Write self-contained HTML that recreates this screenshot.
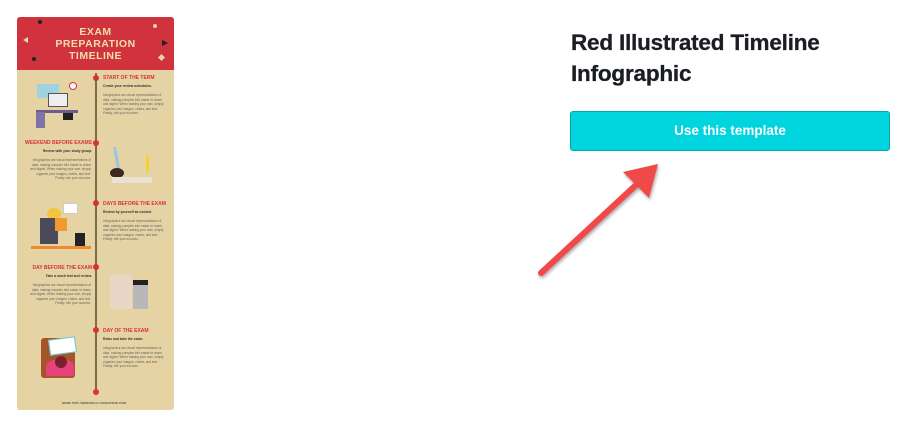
<!DOCTYPE html>
<html><head><meta charset="utf-8"><style>
*{margin:0;padding:0;box-sizing:border-box}
body{width:899px;height:429px;background:#fff;position:relative;overflow:hidden;font-family:"Liberation Sans",sans-serif}
.a{position:absolute}
.h{position:absolute;font-size:5px;font-weight:bold;color:#d6323c;white-space:nowrap}
.s{position:absolute;font-size:3.4px;font-weight:bold;color:#333;white-space:nowrap}
.p{position:absolute;font-size:3.2px;color:#666;line-height:4.6px;width:62px}
.r{text-align:right}
.dot{position:absolute;left:93px;width:6px;height:6px;border-radius:50%;background:#d6323c}
</style></head><body>
<div class="a" style="left:17px;top:17px;width:157px;height:393px;background:#e5d3a4;border-radius:3px;overflow:hidden">
 <div class="a" style="left:0;top:0;width:157px;height:53px;background:#d0333d"></div>
 <div class="a" style="left:0;top:9px;width:157px;text-align:center;color:#f2dfae;font-weight:bold;font-size:10.5px;line-height:12px;letter-spacing:.5px">EXAM<br>PREPARATION<br>TIMELINE</div>
 <div class="a" style="top:3px;width:4px;height:4px;border-radius:50%;background:#222;left:21px"></div>
 <div class="a" style="left:15px;top:40px;width:4px;height:4px;border-radius:50%;background:#222"></div>
 <div class="a" style="left:136px;top:7px;width:4px;height:4px;border-radius:50%;background:#e5d3a4"></div>
 <div class="a" style="left:142px;top:38px;width:5px;height:5px;background:#e5d3a4;transform:rotate(45deg)"></div>
 <div class="a" style="left:6px;top:20px;border-right:5px solid #e5d3a4;border-top:3px solid transparent;border-bottom:3px solid transparent"></div>
 <div class="a" style="left:145px;top:23px;border-left:6px solid #222;border-top:3px solid transparent;border-bottom:3px solid transparent"></div>
 <div class="a" style="left:78px;top:56px;width:2px;height:320px;background:#7a6c4c"></div>
</div>
<div class="dot" style="top:75px"></div><div class="dot" style="top:140px"></div><div class="dot" style="top:200px"></div>
<div class="dot" style="top:264px"></div><div class="dot" style="top:327px"></div><div class="dot" style="top:389px"></div>

<div class="h" style="left:103px;top:75px">START OF THE TERM</div>
<div class="s" style="left:103px;top:84px">Create your review schedules.</div>
<div class="p" style="left:103px;top:93px">Infographics are visual representations of data, making complex info easier to share and digest. When making your own, simply organize your images, charts, and text. Finally, cite your sources.</div>

<div class="h r" style="left:20px;top:140px;width:72px">WEEKEND BEFORE EXAMS</div>
<div class="s r" style="left:20px;top:149px;width:72px">Review with your study group.</div>
<div class="p r" style="left:29px;top:158px">Infographics are visual representations of data, making complex info easier to share and digest. When making your own, simply organize your images, charts, and text. Finally, cite your sources.</div>

<div class="h" style="left:103px;top:201px">DAYS BEFORE THE EXAM</div>
<div class="s" style="left:103px;top:210px">Review by yourself as needed.</div>
<div class="p" style="left:103px;top:219px">Infographics are visual representations of data, making complex info easier to share and digest. When making your own, simply organize your images, charts, and text. Finally, cite your sources.</div>

<div class="h r" style="left:20px;top:265px;width:72px">DAY BEFORE THE EXAM</div>
<div class="s r" style="left:20px;top:274px;width:72px">Take a mock test and review.</div>
<div class="p r" style="left:29px;top:283px">Infographics are visual representations of data, making complex info easier to share and digest. When making your own, simply organize your images, charts, and text. Finally, cite your sources.</div>

<div class="h" style="left:103px;top:328px">DAY OF THE EXAM</div>
<div class="s" style="left:103px;top:337px">Relax and take the exam.</div>
<div class="p" style="left:103px;top:346px">Infographics are visual representations of data, making complex info easier to share and digest. When making your own, simply organize your images, charts, and text. Finally, cite your sources.</div>
<div class="s" style="left:62px;top:401px;font-size:3px;color:#555">MORE TIPS: WWW.REALLYGREATSITE.COM</div>

<div class="a" style="left:37px;top:84px;width:22px;height:14px;background:#9fd3e0"></div>
<div class="a" style="left:48px;top:93px;width:20px;height:14px;background:#eee;border:1px solid #555"></div>
<div class="a" style="left:69px;top:82px;width:8px;height:8px;border-radius:50%;border:1.5px solid #d6323c;background:#fff"></div>
<div class="a" style="left:36px;top:110px;width:42px;height:3px;background:#6b5e8e"></div>
<div class="a" style="left:36px;top:112px;width:9px;height:16px;background:#7f72a6"></div>
<div class="a" style="left:63px;top:113px;width:10px;height:7px;background:#222"></div>
<div class="a" style="left:115px;top:147px;width:3px;height:22px;background:#9cc3e0;transform:rotate(-10deg)"></div>
<div class="a" style="left:110px;top:168px;width:14px;height:10px;border-radius:50%;background:#3a2a20"></div>
<div class="a" style="left:112px;top:177px;width:40px;height:6px;background:#e9e2d2"></div>
<div class="a" style="left:146px;top:156px;width:3px;height:16px;background:#f4d030"></div>
<div class="a" style="left:47px;top:208px;width:14px;height:12px;border-radius:50%;background:#f4c440"></div>
<div class="a" style="left:63px;top:203px;width:15px;height:11px;background:#fff;border:1px solid #ccc"></div>
<div class="a" style="left:40px;top:218px;width:18px;height:26px;background:#4a4a5a"></div>
<div class="a" style="left:55px;top:218px;width:12px;height:13px;background:#f09a30"></div>
<div class="a" style="left:75px;top:233px;width:10px;height:14px;background:#222"></div>
<div class="a" style="left:31px;top:246px;width:60px;height:3px;background:#f08a30"></div>
<div class="a" style="left:110px;top:275px;width:22px;height:34px;background:#e8d7c6"></div>
<div class="a" style="left:133px;top:283px;width:15px;height:26px;background:#b8b8b8"></div>
<div class="a" style="left:133px;top:280px;width:15px;height:5px;background:#222"></div>
<div class="a" style="left:41px;top:338px;width:34px;height:40px;background:#a4562a;border-radius:3px"></div>
<div class="a" style="left:49px;top:338px;width:27px;height:16px;background:#fff;border:1px solid #69c3cc;transform:rotate(-8deg)"></div>
<div class="a" style="left:46px;top:360px;width:28px;height:16px;background:#e8427a;border-radius:8px 8px 2px 2px"></div>
<div class="a" style="left:55px;top:356px;width:12px;height:12px;border-radius:50%;background:#7a2030"></div>

<div class="a" style="left:571px;top:27px;font-size:22.5px;font-weight:bold;color:#1a1d22;line-height:31px;letter-spacing:-.2px;-webkit-text-stroke:.3px #1a1d22">Red Illustrated Timeline<br>Infographic</div>
<div class="a" style="left:570px;top:111px;width:320px;height:40px;background:#00d4de;border:1px solid #00a9b2;border-radius:3px;color:#fff;font-weight:bold;font-size:13.5px;text-align:center;line-height:38px">Use this template</div>
<svg class="a" style="left:0;top:0" width="899" height="429">
 <defs><filter id="f"><feDropShadow dx="1" dy="2" stdDeviation="1.5" flood-opacity=".35"/></filter></defs>
 <g filter="url(#f)">
  <line x1="541" y1="273" x2="636" y2="185" stroke="#f04a4a" stroke-width="6" stroke-linecap="round"/>
  <polygon points="658,164 623,172 649,198" fill="#f04a4a"/>
 </g>
</svg>
</body></html>
